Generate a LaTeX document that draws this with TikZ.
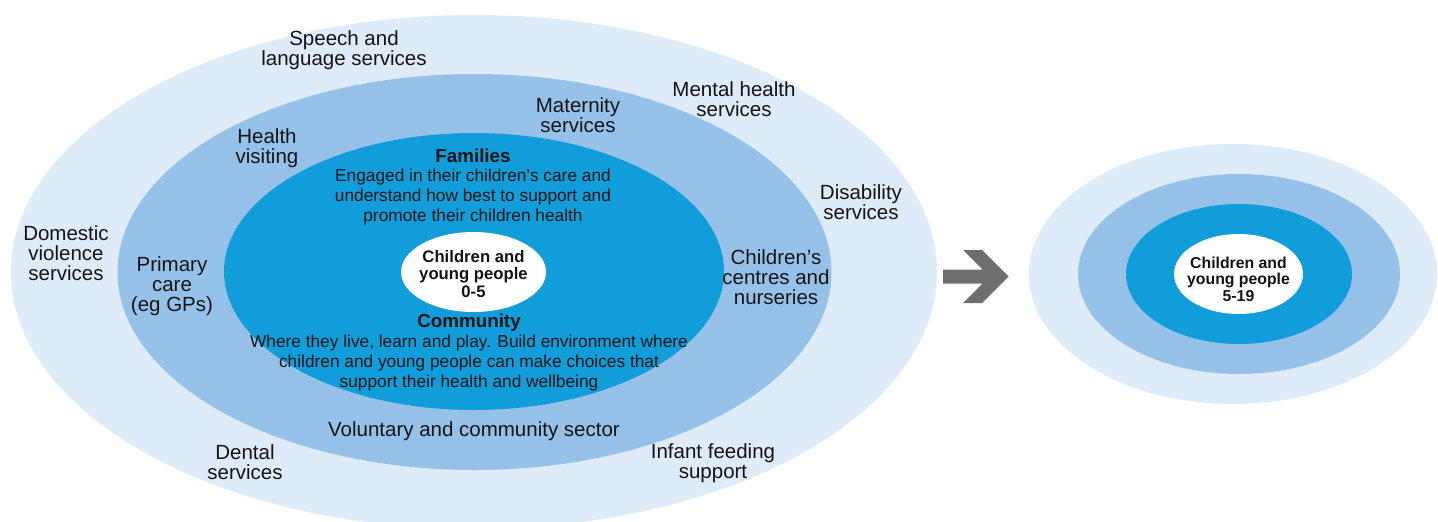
\documentclass[tikz,border=0pt]{standalone}
\usepackage{fontspec}
\setmainfont{Liberation Sans}
\definecolor{ringA}{RGB}{222,235,248}
\definecolor{ringB}{RGB}{150,194,234}
\definecolor{ringC}{RGB}{17,157,217}
\definecolor{arrowgray}{RGB}{110,110,110}
\definecolor{txt}{RGB}{20,20,20}
\begin{document}
\begin{tikzpicture}[x=1pt,y=-1pt,
  lbl/.style={align=center,text=txt,inner sep=0pt,font=\fontsize{20.5}{20}\selectfont},
  desc/.style={align=center,text=txt,inner sep=0pt,font=\fontsize{17.3}{20}\selectfont},
  head/.style={align=center,text=txt,inner sep=0pt,font=\fontsize{18.8}{20}\selectfont\bfseries},
  core/.style={align=center,text=txt,inner sep=0pt,font=\fontsize{16.7}{17.5}\selectfont\bfseries},
  coreS/.style={align=center,text=txt,inner sep=0pt,font=\fontsize{15.8}{16.5}\selectfont\bfseries}]
\useasboundingbox (0,0) rectangle (1438,522);
\clip (0,0) rectangle (1438,522);
% left rings
\fill[ringA] (474,272) ellipse [x radius=463pt, y radius=257pt];
\fill[ringB] (474.5,272) ellipse [x radius=357pt, y radius=198pt];
\fill[ringC] (474,271.5) ellipse [x radius=250pt, y radius=138.5pt];
\fill[white] (473.5,272) ellipse [x radius=72.5pt, y radius=40pt];
% right rings
\fill[ringA] (1233,274) ellipse [x radius=204pt, y radius=130pt];
\fill[ringB] (1239,274) ellipse [x radius=161pt, y radius=100pt];
\fill[ringC] (1239,274) ellipse [x radius=113pt, y radius=70pt];
\fill[white] (1238.5,274) ellipse [x radius=64.5pt, y radius=40pt];
% arrow
\fill[arrowgray] (943,269.5) -- (982.5,269.5) -- (963,250) -- (982,250) -- (1008.5,276.5)
  -- (982,303) -- (963,303) -- (982.5,283.5) -- (943,283.5) -- cycle;
% labels
\node[lbl] (speech) at (344,50) {Speech and\\language services};
\node[lbl] (mental) at (734,99) {Mental health\\services};
\node[lbl] (maternity) at (578,115) {Maternity\\services};
\node[lbl] (health) at (267,148) {Health\\visiting};
\node[lbl] (disability) at (861,202) {Disability\\services};
\node[lbl] (domestic) at (66,253) {Domestic\\violence\\services};
\node[lbl] (primary) at (172,286) {Primary\\care\\(eg GPs)};
\node[lbl] (centres) at (776,277) {Children’s\\centres and\\nurseries};
\node[head] (families) at (473,156) {Families};
\node[desc] (famdesc) at (473,197) {Engaged in their children’s care and\\understand how best to support and\\promote their children health};
\node[core] (core) at (473.5,274) {Children and\\young people\\0-5};
\node[head] (community) at (469,323) {Community};
\node[desc] (comdesc) at (469,363) {Where they live, learn and play. Build environment where\\children and young people can make choices that\\support their health and wellbeing};
\node[lbl] (voluntary) at (474,431) {Voluntary and community sector};
\node[lbl] (dental) at (245,462) {Dental\\services};
\node[lbl] (infant) at (713,463) {Infant feeding\\support};
\node[coreS] (coreR) at (1238.5,279) {Children and\\young people\\5-19};
\end{tikzpicture}
\end{document}
